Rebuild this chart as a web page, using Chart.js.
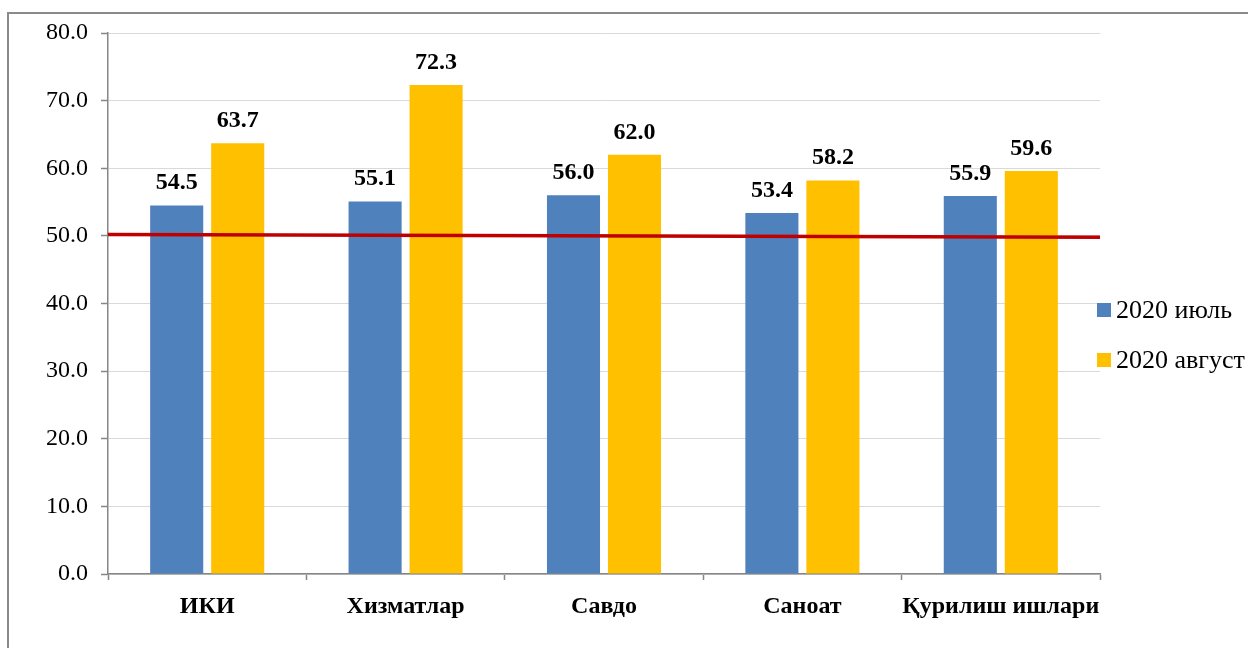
<!DOCTYPE html>
<html>
<head>
<meta charset="utf-8">
<script src="https://cdn.jsdelivr.net/npm/chart.js@4.4.1/dist/chart.umd.min.js"></script>
<style>
  html, body { margin: 0; padding: 0; background: #fff; }
  #wrap { position: relative; width: 1248px; height: 648px; }
</style>
</head>
<body>
<div id="wrap"><canvas id="chart" width="1248" height="648"></canvas></div>
<script>
// data
const categories = ['ИКИ', 'Хизматлар', 'Савдо', 'Саноат', 'Қурилиш ишлари'];
const seriesNames = ['2020 июль', '2020 август'];
const julyValues = [54.5, 55.1, 56.0, 53.4, 55.9];
const augustValues = [63.7, 72.3, 62.0, 58.2, 59.6];
const thresholdLine = [50.2, 49.8]; // red reference line, left end / right end
const yTicks = [0, 10, 20, 30, 40, 50, 60, 70, 80];

const SERIF = '"Liberation Serif", "Times New Roman", serif';
const AXIS_GRAY = '#868686';

// gray frame round the chart (left and top edges are visible)
const framePlugin = {
  id: 'frame',
  beforeDraw(chart) {
    const ctx = chart.ctx;
    ctx.save();
    ctx.strokeStyle = '#8a8a8a';
    ctx.lineWidth = 2;
    ctx.beginPath();
    ctx.moveTo(8, chart.height);
    ctx.lineTo(8, 13);
    ctx.lineTo(chart.width, 13);
    ctx.stroke();
    ctx.restore();
  }
};

// red line at the 50 mark
const thresholdPlugin = {
  id: 'threshold',
  afterDatasetsDraw(chart) {
    const { ctx, chartArea, scales } = chart;
    ctx.save();
    ctx.strokeStyle = '#C00000';
    ctx.lineWidth = 3.5;
    ctx.beginPath();
    ctx.moveTo(chartArea.left, scales.y.getPixelForValue(thresholdLine[0]));
    ctx.lineTo(chartArea.right, scales.y.getPixelForValue(thresholdLine[1]));
    ctx.stroke();
    ctx.restore();
  }
};

// bold value labels above the bars
const valueLabelPlugin = {
  id: 'valueLabels',
  afterDatasetsDraw(chart) {
    const ctx = chart.ctx;
    ctx.save();
    ctx.font = 'bold 24px ' + SERIF;
    ctx.fillStyle = '#000';
    ctx.textAlign = 'center';
    ctx.textBaseline = 'alphabetic';
    chart.data.datasets.forEach((ds, i) => {
      chart.getDatasetMeta(i).data.forEach((bar, j) => {
        ctx.fillText(ds.data[j].toFixed(1), bar.x, bar.y - 16);
      });
    });
    ctx.restore();
  }
};

// legend to the right of the plot
const sideLegendPlugin = {
  id: 'sideLegend',
  afterDraw(chart) {
    const { ctx, chartArea } = chart;
    ctx.save();
    ctx.font = '26px ' + SERIF;
    ctx.textAlign = 'left';
    ctx.textBaseline = 'middle';
    chart.data.datasets.forEach((ds, i) => {
      const cy = 310 + i * 50;
      const bx = chartArea.right - 3;
      ctx.fillStyle = ds.backgroundColor;
      ctx.fillRect(bx, cy - 7, 14, 14);
      ctx.fillStyle = '#000';
      ctx.fillText(ds.label, bx + 19, cy + 1);
    });
    ctx.restore();
  }
};

new Chart(document.getElementById('chart'), {
  type: 'bar',
  data: {
    labels: categories,
    datasets: [
      { label: seriesNames[0], data: julyValues, backgroundColor: '#4F81BD' },
      { label: seriesNames[1], data: augustValues, backgroundColor: '#FFC000' }
    ]
  },
  options: {
    responsive: false,
    animation: false,
    devicePixelRatio: 1,
    categoryPercentage: 0.615,
    barPercentage: 0.87,
    layout: { padding: { left: 0, top: 33, right: 148, bottom: 0 } },
    plugins: {
      legend: { display: false },
      tooltip: { enabled: false }
    },
    scales: {
      x: {
        grid: {
          offset: true,
          drawOnChartArea: false,
          drawTicks: true,
          tickLength: 6,
          tickColor: AXIS_GRAY,
          tickWidth: 1.5
        },
        border: { color: AXIS_GRAY, width: 1.5 },
        ticks: {
          color: '#000',
          padding: 12,
          autoSkip: false,
          maxRotation: 0,
          font: { family: SERIF, size: 24, weight: 'bold' }
        },
        afterFit(scale) { scale.height = 74; }
      },
      y: {
        min: 0,
        max: 80,
        afterBuildTicks(scale) { scale.ticks = yTicks.map(v => ({ value: v })); },
        grid: {
          color: '#D9D9D9',
          lineWidth: 1,
          drawTicks: true,
          tickLength: 7,
          tickColor: AXIS_GRAY,
          tickWidth: 1.5
        },
        border: { color: AXIS_GRAY, width: 1.5 },
        ticks: {
          color: '#000',
          padding: 13,
          font: { family: SERIF, size: 24 },
          callback: v => Number(v).toFixed(1)
        },
        afterFit(scale) { scale.width = 108; }
      }
    }
  },
  plugins: [framePlugin, thresholdPlugin, valueLabelPlugin, sideLegendPlugin]
});
</script>
</body>
</html>
